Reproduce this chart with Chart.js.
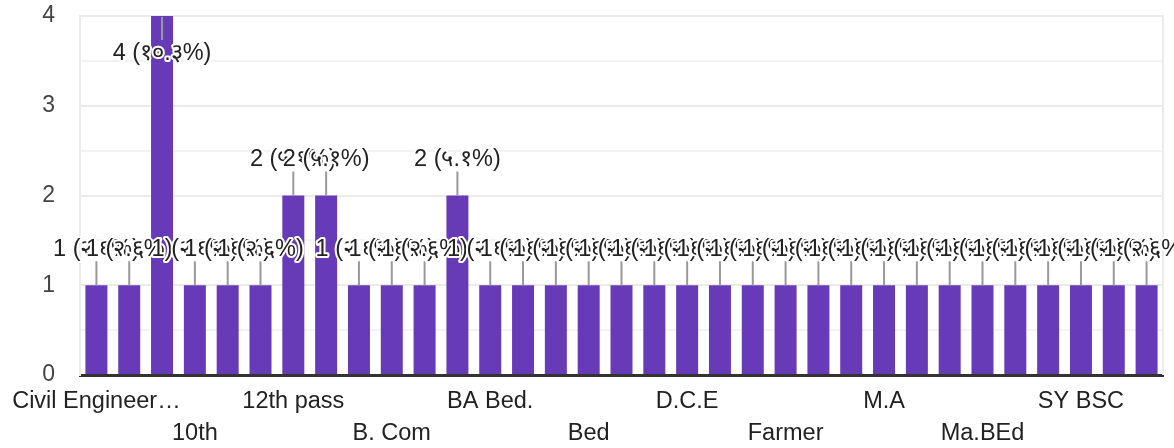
<!DOCTYPE html>
<html>
<head>
<meta charset="utf-8">
<script src="https://cdn.jsdelivr.net/npm/chart.js@4"></script>
<style>
  html, body { margin: 0; padding: 0; background: #fff; }
  #wrap { width: 1174px; height: 448px; position: relative; }
</style>
</head>
<body>
<div id="wrap"><canvas id="chart"></canvas></div>
<script>
// Only every third answer is printed under the axis; the others are guesses.
const categories = [
    "Civil Engineering", "10", "10 th", "10th", "12", "12 th", "12th pass",
    "12th", "B.A", "B. Com", "B.Com", "BA", "BA Bed.", "BA B.Ed", "BCom",
    "Bed", "D.Ed", "DEd", "D.C.E", "Diploma", "Dr", "Farmer", "HSC", "ITI",
    "M.A", "M.Com", "MA Bed", "Ma.BEd", "MSc", "SSC", "SY BSC", "TY BA",
    "TY BSC",
];
const counts = [
    1, 1, 4, 1, 1, 1, 2, 2, 1, 1, 1, 2, 1, 1, 1, 1, 1, 1, 1, 1, 1, 1, 1, 1,
    1, 1, 1, 1, 1, 1, 1, 1, 1,
];
const yTicks = [0, 1, 2, 3, 4];

const FONT = "'Liberation Sans', Arial, sans-serif";
const BAR = "#673ab7";

const total = counts.reduce((a, b) => a + b, 0);

function devanagari(s) {
    const d = "०१२३४५६७८९";
    return s.replace(/[0-9]/g, (c) => d[+c]);
}

function annotation(v) {
    const pct = ((v / total) * 100).toFixed(1);
    return `${v} (${devanagari(pct)}%)`;
}

// Leader lines + "n (pct%)" labels with a white halo, like the Forms summary.
// When there is no room above a bar the label goes inside it instead.
const annotate = {
    id: "annotate",
    afterDatasetsDraw(chart) {
        const { ctx, chartArea } = chart;
        const bars = chart.getDatasetMeta(0).data;
        const inside = (b) => b.y - 50 < 0;
        ctx.save();
        // right edge of the frame
        ctx.strokeStyle = "#ebebeb";
        ctx.lineWidth = 2;
        ctx.beginPath();
        ctx.moveTo(chartArea.right, chartArea.top - 1);
        ctx.lineTo(chartArea.right, chartArea.bottom);
        ctx.stroke();

        ctx.strokeStyle = "#999";
        ctx.lineWidth = 2;
        bars.forEach((b) => {
            const dir = inside(b) ? 1 : -1;
            ctx.beginPath();
            ctx.moveTo(b.x, b.y + (inside(b) ? 1 : 0));
            ctx.lineTo(b.x, b.y + dir * 24);
            ctx.stroke();
        });

        ctx.font = `23.5px ${FONT}`;
        ctx.textAlign = "center";
        ctx.textBaseline = "middle";
        ctx.lineJoin = "round";
        bars.forEach((b, i) => {
            const txt = annotation(counts[i]);
            const y = inside(b) ? b.y + 38 : b.y - 36;
            ctx.strokeStyle = "#fff";
            ctx.lineWidth = 4;
            ctx.strokeText(txt, b.x, y);
            ctx.fillStyle = "#222";
            ctx.fillText(txt, b.x, y);
        });
        ctx.restore();
    },
};

new Chart(document.getElementById("chart"), {
    type: "bar",
    data: {
        labels: categories,
        datasets: [
            {
                data: counts,
                backgroundColor: BAR,
                borderWidth: 0,
                barPercentage: 0.67,
                categoryPercentage: 1,
            },
        ],
    },
    options: {
        responsive: true,
        maintainAspectRatio: false,
        animation: false,
        layout: { padding: { top: 16, right: 11, left: 0, bottom: 0 } },
        plugins: {
            legend: { display: false },
            tooltip: { enabled: false },
        },
        scales: {
            x: {
                grid: { display: false, drawTicks: false },
                border: { display: true, color: "#333", width: 3 },
                afterFit(s) {
                    s.height = 73;
                    s.paddingLeft = 0;
                    s.paddingRight = 0;
                },
                ticks: {
                    autoSkip: false,
                    maxRotation: 0,
                    minRotation: 0,
                    padding: 10,
                    color: "#222",
                    font: { family: FONT, size: 23.5, lineHeight: 1.37 },
                    callback(v, i) {
                        if (i % 3 !== 0) return null;
                        let label = categories[i];
                        if (label.length > 15) label = label.slice(0, 14) + "…";
                        return (i / 3) % 2 === 0 ? [label, ""] : ["", label];
                    },
                },
            },
            y: {
                min: yTicks[0],
                max: yTicks[yTicks.length - 1],
                afterFit(s) {
                    s.width = 80;
                    s.paddingTop = 0;
                    s.paddingBottom = 0;
                },
                grid: {
                    drawTicks: false,
                    // half-step lines are a touch fainter than the labelled ones
                    color: (c) =>
                        yTicks.includes(c.tick?.value) ? "#ebebeb" : "#f3f3f3",
                    lineWidth: 2,
                },
                border: { display: true, color: "#ebebeb", width: 2 },
                ticks: {
                    stepSize: 0.5,
                    padding: 25,
                    color: "#444",
                    font: { family: FONT, size: 23 },
                    callback(v) {
                        return yTicks.includes(v) ? String(v) : "";
                    },
                },
            },
        },
    },
    plugins: [annotate],
});
</script>
</body>
</html>
